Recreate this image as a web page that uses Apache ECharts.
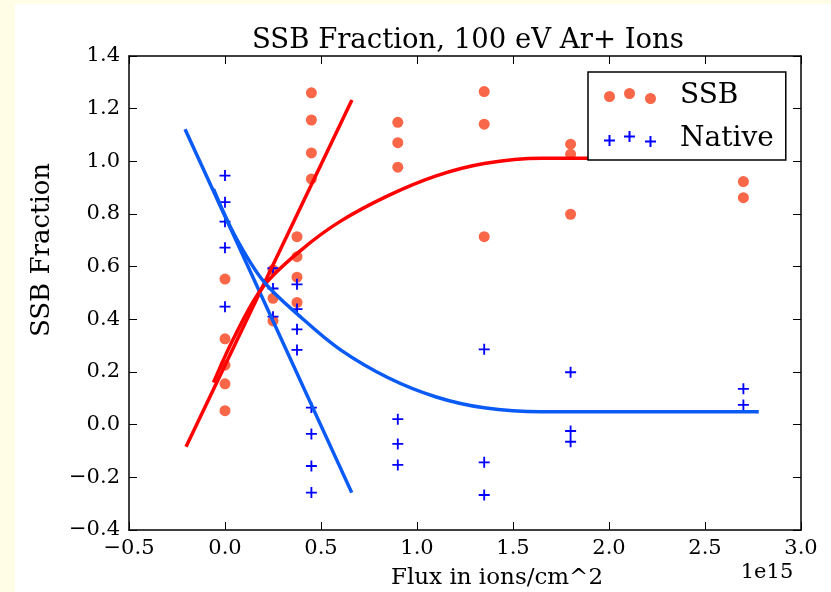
<!DOCTYPE html>
<html>
<head>
<meta charset="utf-8">
<script src="https://cdn.jsdelivr.net/npm/echarts@6/dist/echarts.min.js"></script>
<style>
  html, body { margin: 0; padding: 0; background: #fffde6; }
  #fig { position: absolute; left: 15px; top: 4px; width: 816px; height: 588px; background: #fff; }
  #main { position: absolute; left: 0; top: 0; width: 831px; height: 592px; }
</style>
</head>
<body>
<div id="fig"></div>
<div id="main"></div>
<script>
// measured points, flux in units of 1e15 ions/cm^2
var ssbX = [0, 0, 0, 0, 0, 0.25, 0.25, 0.25, 0.375, 0.375, 0.375, 0.375, 0.45, 0.45, 0.45, 0.45, 0.9, 0.9, 0.9, 1.35, 1.35, 1.35, 1.8, 1.8, 1.8, 2.7, 2.7];
var ssbY = [0.553, 0.326, 0.226, 0.155, 0.053, 0.588, 0.480, 0.394, 0.714, 0.638, 0.560, 0.464, 1.260, 1.157, 1.032, 0.933, 1.148, 1.071, 0.978, 1.265, 1.141, 0.714, 1.065, 1.027, 0.799, 0.923, 0.862];
var nativeX = [0, 0, 0, 0, 0, 0.25, 0.25, 0.25, 0.375, 0.375, 0.375, 0.375, 0.45, 0.45, 0.45, 0.45, 0.9, 0.9, 0.9, 1.35, 1.35, 1.35, 1.8, 1.8, 1.8, 2.7, 2.7];
var nativeY = [0.946, 0.845, 0.771, 0.672, 0.448, 0.594, 0.517, 0.410, 0.533, 0.439, 0.362, 0.284, 0.065, -0.035, -0.157, -0.258, 0.021, -0.073, -0.153, 0.286, -0.143, -0.267, 0.199, -0.024, -0.065, 0.136, 0.075];

// fitted lines
var ssbLineX = [-0.203, 0.661];
var ssbLineY = [-0.084, 1.233];
var nativeLineX = [-0.208, 0.660];
var nativeLineY = [1.122, -0.258];

var ssbCurveX = [-0.06, 0.05, 0.2, 0.4, 0.6, 0.85, 1.1, 1.35, 1.65, 2.81];
var ssbCurveY = [0.16, 0.335, 0.525, 0.665, 0.772, 0.87, 0.945, 0.992, 1.012, 1.012];
var nativeCurveX = [-0.06, 0.05, 0.2, 0.4, 0.6, 0.85, 1.1, 1.35, 1.65, 2.78];
var nativeCurveY = [0.895, 0.72, 0.545, 0.405, 0.285, 0.178, 0.105, 0.064, 0.049, 0.049];

var xTicks = { min: -0.5, max: 3.0, step: 0.5 };
var yTicks = { min: -0.4, max: 1.4, step: 0.2 };

function zip(xs, ys) {
  return xs.map(function (x, i) { return [x, ys[i]]; });
}

function fmt(v) {
  return (v < -1e-9 ? '\u2212' : '') + Math.abs(v).toFixed(1);
}

// legend icons: three markers each, like matplotlib
function circ(cx, cy, r) {
  return 'M' + (cx - r) + ',' + cy + 'a' + r + ',' + r + ' 0 1,0 ' + (2 * r) + ',0a' + r + ',' + r + ' 0 1,0 ' + (-2 * r) + ',0';
}
function plus(cx, cy, h, t) {
  return 'M' + (cx - t) + ',' + (cy - h) + 'H' + (cx + t) + 'V' + (cy - t) + 'H' + (cx + h) + 'V' + (cy + t) +
    'H' + (cx + t) + 'V' + (cy + h) + 'H' + (cx - t) + 'V' + (cy + t) + 'H' + (cx - h) + 'V' + (cy - t) + 'H' + (cx - t) + 'Z';
}
var ssbIcon = 'path://' + circ(5.5, 8.5, 5.5) + circ(25.5, 5.5, 5.5) + circ(46.5, 10.5, 5.5);
var nativeIcon = 'path://' + plus(5.5, 9.5, 5.5, 1) + plus(25.5, 5.5, 5.5, 1) + plus(46.5, 10.5, 5.5, 1);
var plusSymbol = 'path://M5,0H7V5H12V7H7V12H5V7H0V5H5Z';

var font = 'DejaVu Serif';
var red = '#ff0000';
var blue = '#0a5af5';

function axisCommon(range, extra) {
  var a = {
    type: 'value',
    min: range.min,
    max: range.max,
    interval: range.step,
    axisLine: { onZero: false, lineStyle: { color: '#000', width: 1.5 } },
    axisTick: { inside: true, length: 8, lineStyle: { color: '#000', width: 1 } },
    splitLine: { show: false },
    axisLabel: { show: false }
  };
  for (var k in extra) a[k] = extra[k];
  return a;
}

var chart = echarts.init(document.getElementById('main'));
chart.setOption({
  animation: false,
  title: {
    text: 'SSB Fraction, 100 eV Ar+ Ions',
    left: 247,
    top: 22,
    textStyle: { fontFamily: font, fontSize: 27.5, fontWeight: 'normal', color: '#000' }
  },
  grid: { left: 129, right: 30, top: 56, bottom: 62 },
  legend: {
    orient: 'vertical',
    left: 588,
    top: 72,
    data: [{ name: 'SSB', icon: ssbIcon }, { name: 'Native', icon: nativeIcon }],
    itemWidth: 52,
    itemHeight: 16,
    itemGap: 13,
    padding: [9, 12, 6, 16],
    borderColor: '#000',
    borderWidth: 1.5,
    borderRadius: 0,
    backgroundColor: '#fff',
    selectedMode: false,
    textStyle: { fontFamily: font, fontSize: 28, color: '#000', lineHeight: 30, padding: [0, 0, 0, 19] }
  },
  xAxis: [
    axisCommon(xTicks, {
      position: 'bottom',
      axisLabel: { show: true, showMinLabel: true, showMaxLabel: true, formatter: fmt, fontFamily: font, fontSize: 21, color: '#000', margin: 8 }
    }),
    axisCommon(xTicks, { position: 'top' })
  ],
  yAxis: [
    axisCommon(yTicks, {
      position: 'left',
      axisLabel: { show: true, showMinLabel: true, showMaxLabel: true, formatter: fmt, fontFamily: font, fontSize: 21, color: '#000', margin: 9 }
    }),
    axisCommon(yTicks, { position: 'right' })
  ],
  graphic: [
    { type: 'text', x: 42, y: 250, rotation: Math.PI / 2,
      style: { text: 'SSB Fraction', fontFamily: font, fontSize: 26, fill: '#000', align: 'center', verticalAlign: 'middle' } },
    { type: 'text', x: 497, y: 578,
      style: { text: 'Flux in ions/cm^2', fontFamily: font, fontSize: 23, fill: '#000', align: 'center', verticalAlign: 'middle' } },
    { type: 'text', x: 767, y: 573,
      style: { text: '1e15', fontFamily: font, fontSize: 21, fill: '#000', align: 'center', verticalAlign: 'middle' } }
  ],
  series: [
    { name: 'SSB', type: 'scatter', data: zip(ssbX, ssbY), symbol: 'circle', symbolSize: 11,
      itemStyle: { color: '#fa6648', opacity: 1 }, z: 2 },
    { name: 'Native', type: 'scatter', data: zip(nativeX, nativeY), symbol: plusSymbol, symbolSize: 11,
      itemStyle: { color: '#0000ff', opacity: 1 }, z: 2 },
    { name: 'SSB linear', type: 'line', data: zip(ssbLineX, ssbLineY), showSymbol: false,
      lineStyle: { color: red, width: 3.5 }, itemStyle: { color: red }, z: 3 },
    { name: 'Native linear', type: 'line', data: zip(nativeLineX, nativeLineY), showSymbol: false,
      lineStyle: { color: blue, width: 3.5 }, itemStyle: { color: blue }, z: 3 },
    { name: 'SSB fit', type: 'line', data: zip(ssbCurveX, ssbCurveY), showSymbol: false, smooth: 0.35,
      lineStyle: { color: red, width: 3.5 }, itemStyle: { color: red }, z: 3 },
    { name: 'Native fit', type: 'line', data: zip(nativeCurveX, nativeCurveY), showSymbol: false, smooth: 0.35,
      lineStyle: { color: blue, width: 3.5 }, itemStyle: { color: blue }, z: 3 }
  ]
});
</script>
</body>
</html>
